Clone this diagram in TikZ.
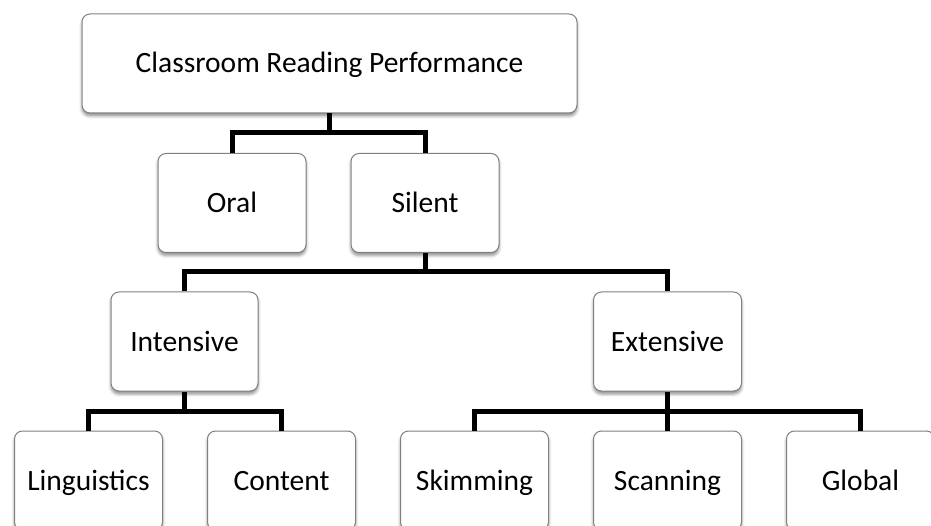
\documentclass[tikz,border=0pt]{standalone}
\usepackage{fontspec}
\setmainfont{Carlito}
\usetikzlibrary{shadows.blur}
\tikzset{
  box/.style={draw=black!50, line width=1pt, fill=white, rounded corners=8pt,
    minimum width=148pt, minimum height=99pt, inner sep=0pt,
    font=\fontsize{29.5}{34}\selectfont, text=black,
    text height=19pt, text depth=0pt,
    blur shadow={shadow xshift=0pt, shadow yshift=-3pt, shadow blur radius=3pt, shadow opacity=45}},
  link/.style={line width=5pt, draw=black, line join=miter}
}
\begin{document}
\begin{tikzpicture}[x=1pt,y=-1pt]
\useasboundingbox (0,0) rectangle (931,526);
\clip (0,0) rectangle (931,526);
\node[box, minimum width=495pt] (top) at (329.5,63.5) {Classroom Reading Performance};
\node[box] (oral) at (232,203) {Oral};
\node[box] (silent) at (425,203) {Silent};
\node[box, minimum width=147pt] (intensive) at (184.5,341.5) {Intensive};
\node[box] (extensive) at (667.5,341.5) {Extensive};
\node[box] (ling) at (88.5,480.5) {Linguistics};
\node[box] (content) at (281.5,480.5) {Content};
\node[box] (skim) at (474.5,480.5) {Skimming};
\node[box] (scan) at (667.5,480.5) {Scanning};
\node[box] (global) at (860.5,480.5) {Global};
\coordinate (j1) at (329.5,133);
\coordinate (j2) at (425,272);
\coordinate (j3) at (184.5,411);
\coordinate (j4) at (667.5,411);
\draw[link] (top.south) -- (j1);
\draw[link] (oral.north) |- (j1) -| (silent.north);
\draw[link] (silent.south) -- (j2);
\draw[link] (intensive.north) |- (j2) -| (extensive.north);
\draw[link] (intensive.south) -- (j3);
\draw[link] (ling.north) |- (j3) -| (content.north);
\draw[link] (extensive.south) -- (j4) -- (scan.north);
\draw[link] (skim.north) |- (j4) -| (global.north);
\end{tikzpicture}
\end{document}
